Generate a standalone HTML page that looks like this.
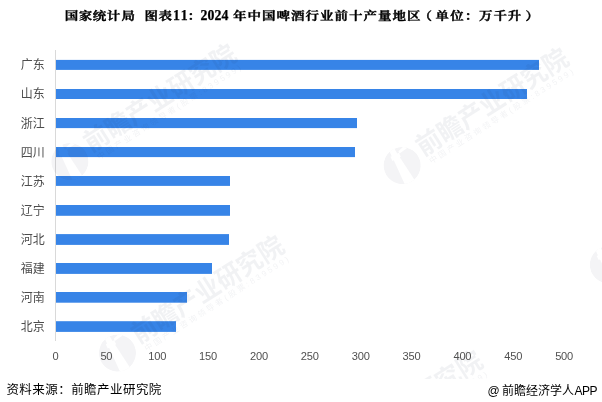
<!DOCTYPE html>
<html lang="zh-CN"><head><meta charset="utf-8"><title>2024年中国啤酒行业前十产量地区</title>
<style>html,body{margin:0;padding:0;background:#fff}body{width:602px;height:402px;overflow:hidden}svg{display:block}.t{font-family:"Liberation Serif","Noto Serif CJK SC",serif;font-weight:600;font-size:11.3px;fill:#000;stroke:#000;stroke-width:0.45px;stroke-linejoin:round}.d{font-family:"Liberation Serif","Noto Serif CJK SC",serif;font-weight:bold;font-size:13.8px;fill:#000;stroke:#000;stroke-width:0.25px}.c{font-family:"Liberation Sans","Noto Sans CJK SC",sans-serif;font-size:12px;fill:#4d4d4d}.x{font-family:"Liberation Sans","Noto Sans CJK SC",sans-serif;font-size:11.1px;fill:#505050;letter-spacing:-0.2px}.f{font-family:"Liberation Sans","Noto Sans CJK SC",sans-serif;font-size:12.5px;fill:#000}.g{font-family:"Liberation Sans","Noto Sans CJK SC",sans-serif;font-size:12px;fill:#000}.w{font-family:"Liberation Sans","Noto Sans CJK SC",sans-serif;font-weight:bold;font-size:26px;fill:#1e2850;fill-opacity:0.062}.v{font-family:"Liberation Sans","Noto Sans CJK SC",sans-serif;font-size:8px;fill:#1e2850;fill-opacity:0.062;letter-spacing:2.45px}.l{fill:#1e2850;fill-opacity:0.052}</style></head><body>
<svg width="602" height="402" viewBox="0 0 602 402">
<rect width="602" height="402" fill="#fff"/>
<text class="t" transform="scale(1.1947 1)" x="54.24 65.96 77.68 89.40 101.78" y="20.00">国家统计局</text>
<text class="t" transform="scale(1.1947 1)" x="120.95 132.59" y="20.00">图表</text>
<text class="d" x="173.00 180.80" y="20.30">11</text>
<text class="t" transform="scale(1.1947 1)" x="156.94" y="20.00">：</text>
<text class="d" x="200.60 207.58 214.56 221.54" y="20.30">2024</text>
<text class="t" transform="scale(1.1947 1)" x="194.95 207.08 219.22 231.36 243.49 255.63 267.77 279.91 292.04 304.18 316.32 328.45 340.59" y="20.00">年中国啤酒行业前十产量地区</text>
<text class="t" transform="scale(1.1947 1)" x="350.38 364.61 376.83 388.97 400.94 413.16 425.05 439.78" y="20.00">（单位：万千升）</text>
<rect x="55" y="50" width="1" height="291" fill="#d9d9d9"/>
<rect x="56" y="59.90" width="483" height="10.00" fill="#3784e7"/>
<text class="c" x="44.7" y="69.40" text-anchor="end">广东</text>
<rect x="56" y="89.00" width="471" height="10.00" fill="#3784e7"/>
<text class="c" x="44.7" y="98.45" text-anchor="end">山东</text>
<rect x="56" y="118.00" width="301" height="10.10" fill="#3784e7"/>
<text class="c" x="44.7" y="127.50" text-anchor="end">浙江</text>
<rect x="56" y="147.00" width="299" height="10.10" fill="#3784e7"/>
<text class="c" x="44.7" y="156.55" text-anchor="end">四川</text>
<rect x="56" y="176.00" width="174" height="9.90" fill="#3784e7"/>
<text class="c" x="44.7" y="185.60" text-anchor="end">江苏</text>
<rect x="56" y="205.00" width="174" height="10.80" fill="#3784e7"/>
<text class="c" x="44.7" y="214.65" text-anchor="end">辽宁</text>
<rect x="56" y="234.10" width="173" height="10.80" fill="#3784e7"/>
<text class="c" x="44.7" y="243.70" text-anchor="end">河北</text>
<rect x="56" y="263.00" width="156" height="10.90" fill="#3784e7"/>
<text class="c" x="44.7" y="272.75" text-anchor="end">福建</text>
<rect x="56" y="292.00" width="131" height="10.70" fill="#3784e7"/>
<text class="c" x="44.7" y="301.80" text-anchor="end">河南</text>
<rect x="56" y="321.20" width="120" height="10.70" fill="#3784e7"/>
<text class="c" x="44.7" y="330.85" text-anchor="end">北京</text>
<defs><clipPath id="wc"><rect x="0" y="38" width="602" height="341"/></clipPath><clipPath id="lc"><circle cx="-22.6" cy="4.5" r="18.6"/></clipPath></defs>
<g clip-path="url(#wc)">
<g transform="translate(86.5 145.6) rotate(-32.5)"><path class="l" clip-path="url(#lc)" fill-rule="evenodd" d="M-41.20 4.50 a18.60 18.60 0 1 0 37.20 0 a18.60 18.60 0 1 0 -37.20 0 Z M-25.39 -14.90 L-20.02 -14.33 L-20.25 -8.32 L-18.46 -8.14 L-18.93 -3.66 L-20.12 -3.79 L-19.82 24.90 L-30.76 23.75 L-26.78 -4.49 L-28.28 -4.64 L-27.80 -9.12 L-26.41 -8.97 Z M-18.11 -9.51 L-1.27 -12.87 L-1.79 -7.89 L-18.36 -7.12 Z"/><text class="w" transform="scale(0.9615 1)" x="0" y="8.5">前瞻产业研究院</text><text class="v" x="3" y="19">中国产业咨询领导者(股票:839599)</text></g>
<g transform="translate(418.8 149.6) rotate(-32.5)"><path class="l" clip-path="url(#lc)" fill-rule="evenodd" d="M-41.20 4.50 a18.60 18.60 0 1 0 37.20 0 a18.60 18.60 0 1 0 -37.20 0 Z M-25.39 -14.90 L-20.02 -14.33 L-20.25 -8.32 L-18.46 -8.14 L-18.93 -3.66 L-20.12 -3.79 L-19.82 24.90 L-30.76 23.75 L-26.78 -4.49 L-28.28 -4.64 L-27.80 -9.12 L-26.41 -8.97 Z M-18.11 -9.51 L-1.27 -12.87 L-1.79 -7.89 L-18.36 -7.12 Z"/><text class="w" transform="scale(0.9615 1)" x="0" y="8.5">前瞻产业研究院</text><text class="v" x="3" y="19">中国产业咨询领导者(股票:839599)</text></g>
<g transform="translate(134.1 337.1) rotate(-32.5)"><path class="l" clip-path="url(#lc)" fill-rule="evenodd" d="M-41.20 4.50 a18.60 18.60 0 1 0 37.20 0 a18.60 18.60 0 1 0 -37.20 0 Z M-25.39 -14.90 L-20.02 -14.33 L-20.25 -8.32 L-18.46 -8.14 L-18.93 -3.66 L-20.12 -3.79 L-19.82 24.90 L-30.76 23.75 L-26.78 -4.49 L-28.28 -4.64 L-27.80 -9.12 L-26.41 -8.97 Z M-18.11 -9.51 L-1.27 -12.87 L-1.79 -7.89 L-18.36 -7.12 Z"/><text class="w" transform="scale(0.9615 1)" x="0" y="8.5">前瞻产业研究院</text><text class="v" x="3" y="19">中国产业咨询领导者(股票:839599)</text></g>
<g transform="translate(332.6 452.1) rotate(-32.5)"><path class="l" clip-path="url(#lc)" fill-rule="evenodd" d="M-41.20 4.50 a18.60 18.60 0 1 0 37.20 0 a18.60 18.60 0 1 0 -37.20 0 Z M-25.39 -14.90 L-20.02 -14.33 L-20.25 -8.32 L-18.46 -8.14 L-18.93 -3.66 L-20.12 -3.79 L-19.82 24.90 L-30.76 23.75 L-26.78 -4.49 L-28.28 -4.64 L-27.80 -9.12 L-26.41 -8.97 Z M-18.11 -9.51 L-1.27 -12.87 L-1.79 -7.89 L-18.36 -7.12 Z"/><text class="w" transform="scale(0.9615 1)" x="0" y="8.5">前瞻产业研究院</text><text class="v" x="3" y="19">中国产业咨询领导者(股票:839599)</text></g>
<g transform="translate(625 248.8) rotate(-32.5)"><path class="l" clip-path="url(#lc)" fill-rule="evenodd" d="M-41.20 4.50 a18.60 18.60 0 1 0 37.20 0 a18.60 18.60 0 1 0 -37.20 0 Z M-25.39 -14.90 L-20.02 -14.33 L-20.25 -8.32 L-18.46 -8.14 L-18.93 -3.66 L-20.12 -3.79 L-19.82 24.90 L-30.76 23.75 L-26.78 -4.49 L-28.28 -4.64 L-27.80 -9.12 L-26.41 -8.97 Z M-18.11 -9.51 L-1.27 -12.87 L-1.79 -7.89 L-18.36 -7.12 Z"/><text class="w" transform="scale(0.9615 1)" x="0" y="8.5">前瞻产业研究院</text><text class="v" x="3" y="19">中国产业咨询领导者(股票:839599)</text></g>
</g>
<text class="x" x="55.50" y="360.3" text-anchor="middle">0</text>
<text class="x" x="106.36" y="360.3" text-anchor="middle">50</text>
<text class="x" x="157.22" y="360.3" text-anchor="middle">100</text>
<text class="x" x="208.08" y="360.3" text-anchor="middle">150</text>
<text class="x" x="258.94" y="360.3" text-anchor="middle">200</text>
<text class="x" x="309.80" y="360.3" text-anchor="middle">250</text>
<text class="x" x="360.66" y="360.3" text-anchor="middle">300</text>
<text class="x" x="411.52" y="360.3" text-anchor="middle">350</text>
<text class="x" x="462.38" y="360.3" text-anchor="middle">400</text>
<text class="x" x="513.24" y="360.3" text-anchor="middle">450</text>
<text class="x" x="564.10" y="360.3" text-anchor="middle">500</text>
<text class="f" x="6.4" y="394.3" letter-spacing="0.45">资料来源：前瞻产业研究院</text>
<text class="g" y="395.1"><tspan x="487.6" style="font-size:12px">@</tspan><tspan x="502.1 514.1 526.1 538.1 550.1 562.1">前瞻经济学人</tspan><tspan x="574.5 582.0 589.4" style="font-size:12px">APP</tspan></text>
</svg></body></html>
